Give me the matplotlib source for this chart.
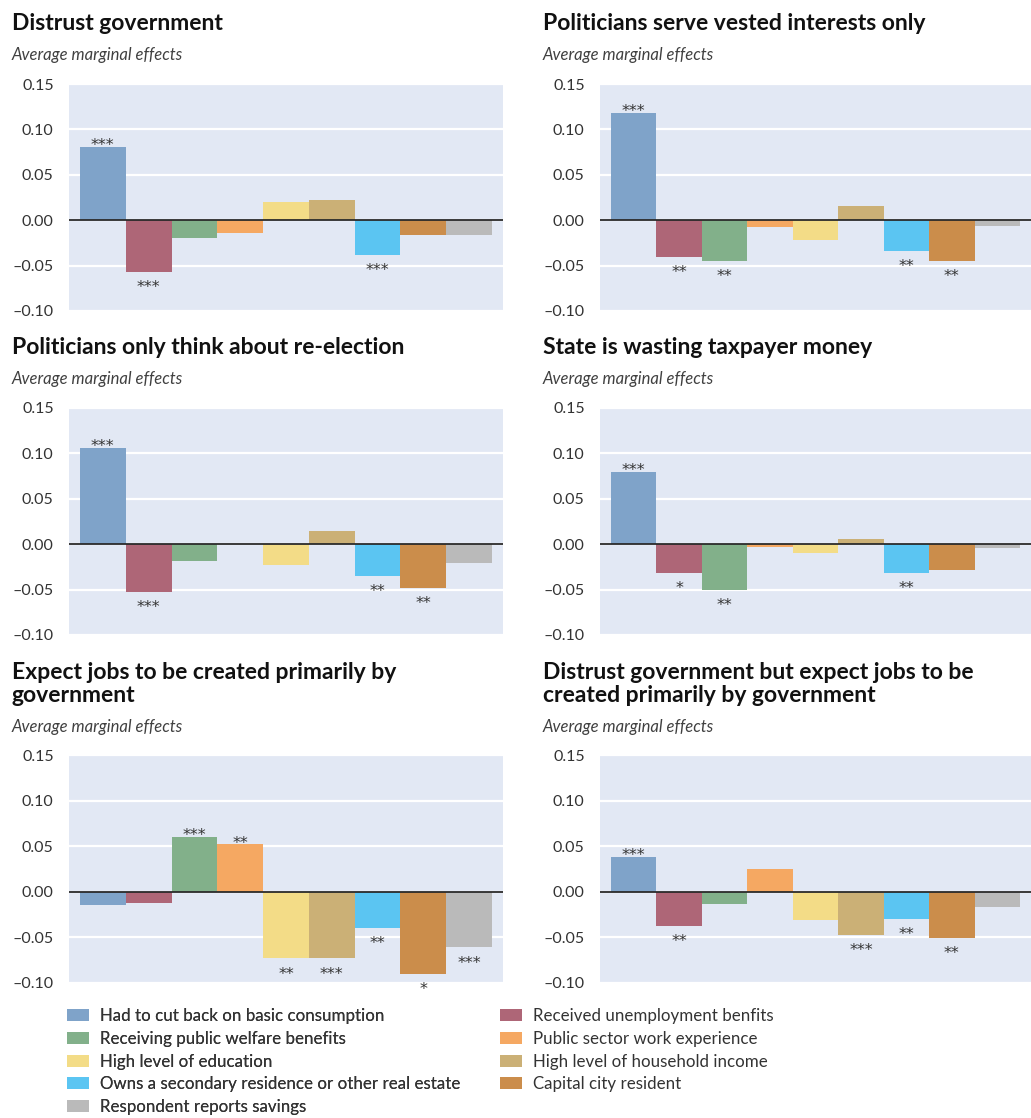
import matplotlib
matplotlib.use("Agg")
import matplotlib.pyplot as plt
from matplotlib.patches import Patch

plt.rcParams['font.family'] = ['Lato', 'DejaVu Sans']

# ---------------- data ----------------
categories = [
    "Had to cut back on basic consumption",
    "Received unemployment benfits",
    "Receiving public welfare benefits",
    "Public sector work experience",
    "High level of education",
    "High level of household income",
    "Owns a secondary residence or other real estate",
    "Capital city resident",
    "Respondent reports savings",
]
colors = ["#7FA3C9", "#AE6677", "#82B08A", "#F5A862", "#F3DC87",
          "#CBB076", "#5BC5F2", "#CB8D4B", "#BABABA"]

titles = [
    "Distrust government",
    "Politicians serve vested interests only",
    "Politicians only think about re-election",
    "State is wasting taxpayer money",
    "Expect jobs to be created primarily by\ngovernment",
    "Distrust government but expect jobs to be\ncreated primarily by government",
]
subtitle = "Average marginal effects"

v_distrust = [0.081, -0.057, -0.020, -0.014, 0.020, 0.022, -0.038, -0.016, -0.016]
s_distrust = ["***", "***", "", "", "", "", "***", "", ""]

v_vested = [0.118, -0.040, -0.045, -0.008, -0.022, 0.016, -0.034, -0.045, -0.006]
s_vested = ["***", "**", "**", "", "", "", "**", "**", ""]

v_reelect = [0.106, -0.053, -0.019, 0.0, -0.023, 0.014, -0.035, -0.048, -0.021]
s_reelect = ["***", "***", "", "", "", "", "**", "**", ""]

v_wasting = [0.080, -0.032, -0.050, -0.003, -0.010, 0.006, -0.032, -0.028, -0.004]
s_wasting = ["***", "*", "**", "", "", "", "**", "", ""]

v_jobs = [-0.015, -0.012, 0.060, 0.052, -0.073, -0.073, -0.040, -0.090, -0.061]
s_jobs = ["", "", "***", "**", "**", "***", "**", "*", "***"]

v_both = [0.038, -0.037, -0.013, 0.025, -0.031, -0.047, -0.030, -0.051, -0.017]
s_both = ["***", "**", "", "", "", "***", "**", "**", ""]

yticks = [-0.10, -0.05, 0.00, 0.05, 0.10, 0.15]

panel_values = [v_distrust, v_vested, v_reelect, v_wasting, v_jobs, v_both]
panel_stars = [s_distrust, s_vested, s_reelect, s_wasting, s_jobs, s_both]

# ---------------- layout ----------------
W, H = 1031, 1118
fig = plt.figure(figsize=(W / 100, H / 100), dpi=100)

col_x = [(69, 434), (600, 431)]
row_y = [(84, 227), (408, 227), (755, 228)]
title_x = [12, 543]
title_y = [23, 348, 684]
sub_y = [55, 379, 727]

BG = "#E2E8F4"
TXT = "#333333"

for k in range(6):
    r, c = divmod(k, 2)
    x0, w = col_x[c]
    y0, h = row_y[r]
    ax = fig.add_axes([x0 / W, 1 - (y0 + h) / H, w / W, h / H])
    ax.set_facecolor(BG)
    vals = panel_values[k]
    xs = list(range(len(vals)))
    ax.bar(xs, vals, width=1.0, color=colors, zorder=2, linewidth=0)
    ax.set_ylim(-0.10, 0.15)
    ax.set_xlim(-0.74, 8.74)
    ax.set_xticks([])
    ax.set_yticks(yticks)
    ax.set_yticklabels([("%.2f" % t).replace("-", "\u2013") for t in yticks])
    ax.tick_params(axis="y", length=0, pad=11, labelsize=11.5, labelcolor=TXT)
    for sp in ax.spines.values():
        sp.set_visible(False)
    ax.set_axisbelow(True)
    ax.yaxis.grid(True, color="white", linewidth=1.6)
    ax.axhline(0, color="#2a2a2a", linewidth=1.3, zorder=3)

    for i, (v, s) in enumerate(zip(vals, panel_stars[k])):
        if not s:
            continue
        off = -2.4 if v >= 0 else -14.5
        ax.annotate(s, (i, v), xytext=(0, off), textcoords="offset points",
                    ha="center", va="baseline", fontsize=11.5, color=TXT,
                    family="DejaVu Sans", zorder=4)

    fig.text(title_x[c] / W, 1 - title_y[r] / H, titles[k], fontsize=16.5,
             fontweight="bold", color="#111111", ha="left", va="center",
             linespacing=1.15)
    fig.text(title_x[c] / W, 1 - sub_y[r] / H, subtitle, fontsize=12,
             style="italic", color="#404040", ha="left", va="center")

# ---------------- legend ----------------
handles = [Patch(facecolor=col, edgecolor="none", label=lab)
           for col, lab in zip(colors, categories)]
left_idx = [0, 2, 4, 6, 8]
right_idx = [1, 3, 5, 7]
common = dict(frameon=False, fontsize=12.2, handlelength=1.3, handleheight=0.7,
              handletextpad=0.65, labelspacing=0.40, borderpad=0,
              borderaxespad=0, labelcolor=TXT, loc="upper left")
leg1 = fig.legend([handles[i] for i in left_idx], [categories[i] for i in left_idx],
                  bbox_to_anchor=(67 / W, 1 - 1008 / H), **common)
leg2 = fig.legend([handles[i] for i in right_idx], [categories[i] for i in right_idx],
                  bbox_to_anchor=(500 / W, 1 - 1008 / H), **common)
fig.add_artist(leg1)

fig.savefig("out.png", dpi=100, facecolor="white")
